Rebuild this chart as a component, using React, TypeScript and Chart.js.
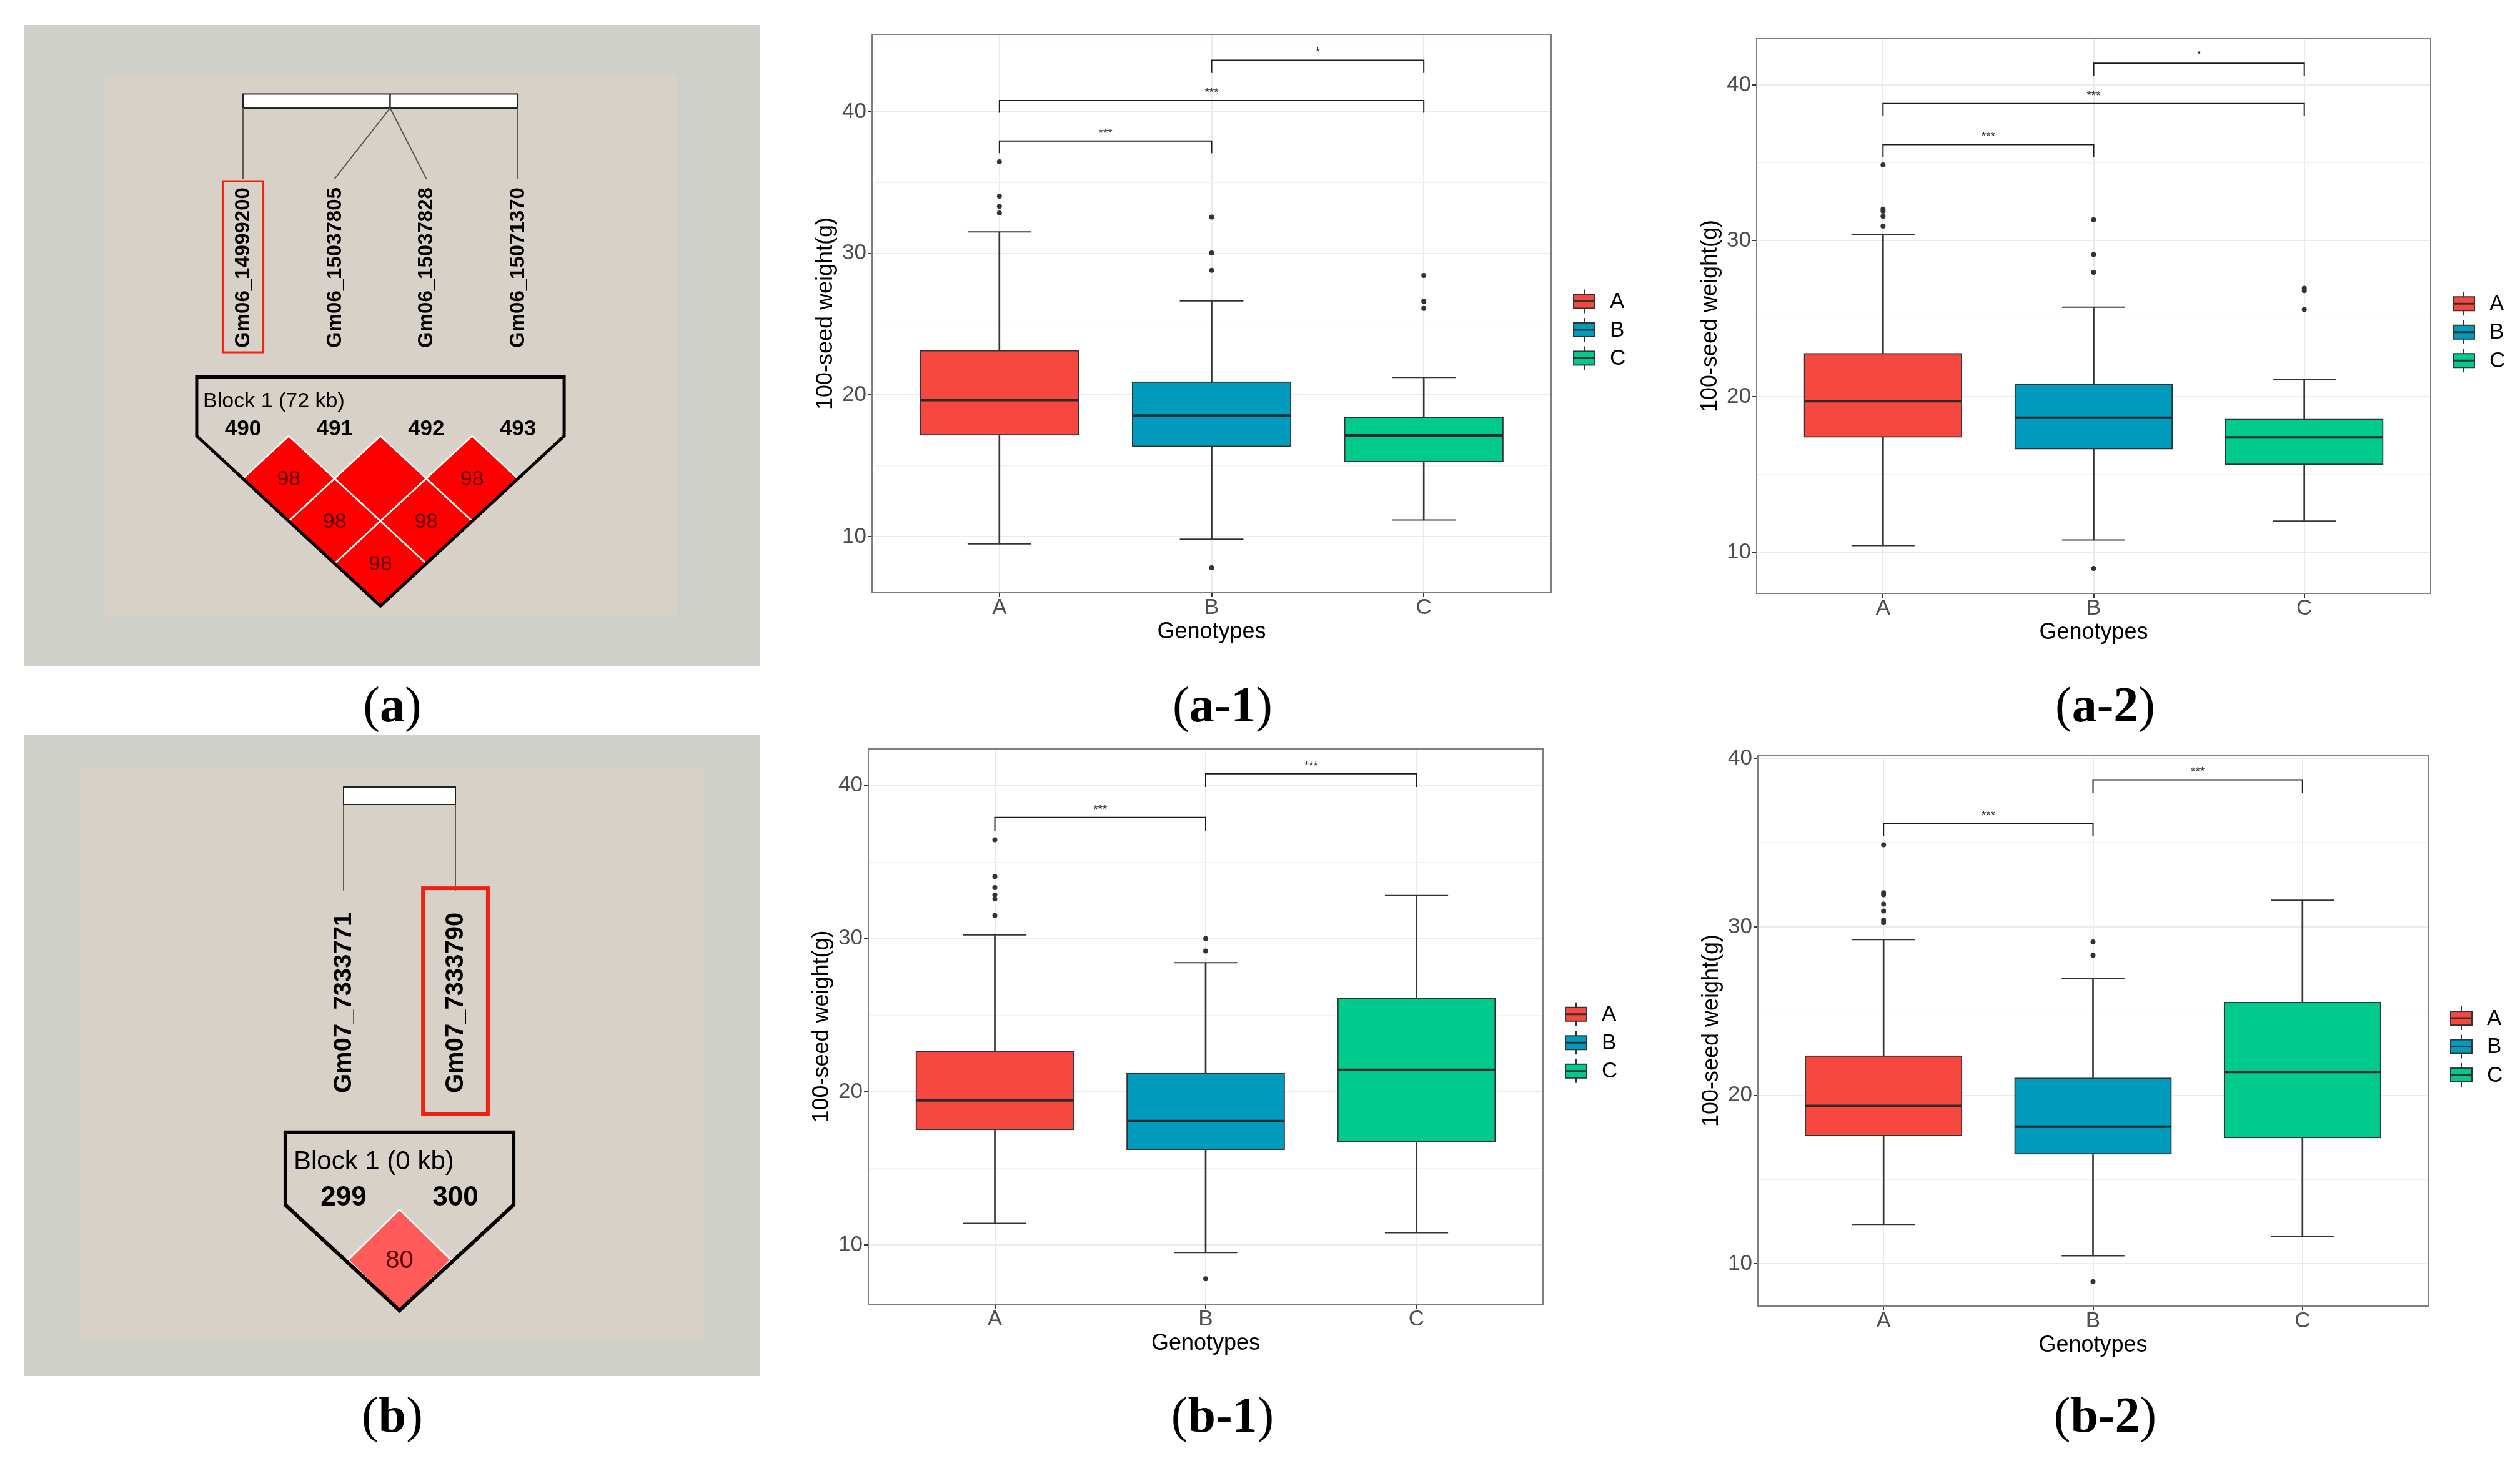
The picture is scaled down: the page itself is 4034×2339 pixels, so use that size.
import React, { useEffect, useRef } from 'react';
import { Chart, registerables } from 'chart.js';

Chart.register(...registerables);
const SANS = "'Liberation Sans', Arial, Helvetica, sans-serif";
Chart.defaults.font.family = SANS;

// ================= Box-plot data =================
const genotypes = ['A', 'B', 'C'];
const genotypeColors = ['#F64740', '#009BBD', '#00CB8D'];
const yMajorTicks = [10, 20, 30, 40];
const yMinorTicks = [15, 25, 35, 45];
const xAxisTitle = 'Genotypes';
const yAxisTitle = '100-seed weight(g)';

// (a-1)
const a1Low = [9.48, 9.81, 11.17];
const a1Q1 = [17.15, 16.35, 15.26];
const a1Median = [19.64, 18.55, 17.15];
const a1Q3 = [23.16, 20.94, 18.41];
const a1High = [31.52, 26.64, 21.24];
const a1Outliers = [[36.47, 34.04, 33.33, 32.85], [32.57, 30.03, 28.81, 7.79], [28.44, 26.61, 26.11]];
const a1SigPairs = [[0, 1], [0, 2], [1, 2]];
const a1SigTop = [37.94, 40.79, 43.64];
const a1SigTip = [37.08, 39.93, 42.75];
const a1SigLabel = ['***', '***', '*'];
const a1YRange = [6.03, 45.47];

// (a-2)
const a2Low = [10.45, 10.81, 12.02];
const a2Q1 = [17.39, 16.63, 15.64];
const a2Median = [19.71, 18.65, 17.39];
const a2Q3 = [22.78, 20.83, 18.57];
const a2High = [30.41, 25.74, 21.1];
const a2Outliers = [[34.87, 32.03, 31.9, 31.57, 30.94], [31.35, 29.12, 27.97, 8.98], [26.95, 26.8, 25.59]];
const a2SigPairs = [[0, 1], [0, 2], [1, 2]];
const a2SigTop = [36.17, 38.8, 41.39];
const a2SigTip = [35.39, 38.0, 40.6];
const a2SigLabel = ['***', '***', '*'];
const a2YRange = [7.38, 42.96];

// (b-1)
const b1Low = [11.41, 9.51, 10.8];
const b1Q1 = [17.51, 16.22, 16.72];
const b1Median = [19.44, 18.09, 21.44];
const b1Q3 = [22.66, 21.22, 26.1];
const b1High = [30.25, 28.43, 32.82];
const b1Outliers = [[36.46, 34.06, 33.34, 32.86, 32.59, 31.51], [30.0, 29.2, 7.79], []];
const b1SigPairs = [[0, 1], [1, 2]];
const b1SigTop = [37.91, 40.77];
const b1SigTip = [37.02, 39.9];
const b1SigLabel = ['***', '***'];
const b1YRange = [6.13, 42.39];

// (b-2)
const b2Low = [12.34, 10.47, 11.62];
const b2Q1 = [17.59, 16.5, 17.47];
const b2Median = [19.37, 18.14, 21.38];
const b2Q3 = [22.35, 21.04, 25.53];
const b2High = [29.24, 26.92, 31.58];
const b2Outliers = [[34.87, 32.02, 31.9, 31.35, 30.94, 30.4, 30.25], [29.1, 28.32, 8.94], []];
const b2SigPairs = [[0, 1], [1, 2]];
const b2SigTop = [36.15, 38.73];
const b2SigTip = [35.4, 37.96];
const b2SigLabel = ['***', '***'];
const b2YRange = [7.49, 40.19];

// ================= LD block data =================
const ldANames = ['Gm06_14999200', 'Gm06_15037805', 'Gm06_15037828', 'Gm06_15071370'];
const ldAPositions = [14999200, 15037805, 15037828, 15071370];
const ldAIds = ['490', '491', '492', '493'];
const ldACellFrom = [0, 1, 2, 0, 1, 0];
const ldACellTo = [1, 2, 3, 2, 3, 3];
const ldACellValue = [98, 100, 98, 98, 98, 98];
const ldAHighlight = 0;
const ldABlockLabel = 'Block 1 (72 kb)';

const ldBNames = ['Gm07_7333771', 'Gm07_7333790'];
const ldBPositions = [7333771, 7333790];
const ldBIds = ['299', '300'];
const ldBCellFrom = [0];
const ldBCellTo = [1];
const ldBCellValue = [80];
const ldBHighlight = 1;
const ldBBlockLabel = 'Block 1 (0 kb)';

const captionTexts = ['a', 'a-1', 'a-2', 'b', 'b-1', 'b-2'];

// ================= layout =================
const X_RANGE = [-0.6, 2.6];
const BOX_WIDTH = 0.75;
const CAP_WIDTH = 0.3;
const X_AXIS_H = 110;
const Y_AXIS_W = 146;
const TICK_FONT = 35;

const boxPlots = [
  { key: 'a1', canvas: { left: 1250, top: 0, w: 1450, h: 1100 }, panel: { l: 1396, r: 2483, t: 55, b: 949 },
    low: a1Low, q1: a1Q1, median: a1Median, q3: a1Q3, high: a1High, outliers: a1Outliers,
    sigPairs: a1SigPairs, sigTop: a1SigTop, sigTip: a1SigTip, sigLabel: a1SigLabel, yRange: a1YRange },
  { key: 'a2', canvas: { left: 2650, top: 0, w: 1384, h: 1100 }, panel: { l: 2812, r: 3891, t: 62, b: 950 },
    low: a2Low, q1: a2Q1, median: a2Median, q3: a2Q3, high: a2High, outliers: a2Outliers,
    sigPairs: a2SigPairs, sigTop: a2SigTop, sigTip: a2SigTip, sigLabel: a2SigLabel, yRange: a2YRange },
  { key: 'b1', canvas: { left: 1250, top: 1150, w: 1450, h: 1100 }, panel: { l: 1390, r: 2470, t: 1199, b: 2088 },
    low: b1Low, q1: b1Q1, median: b1Median, q3: b1Q3, high: b1High, outliers: b1Outliers,
    sigPairs: b1SigPairs, sigTop: b1SigTop, sigTip: b1SigTip, sigLabel: b1SigLabel, yRange: b1YRange },
  { key: 'b2', canvas: { left: 2650, top: 1150, w: 1384, h: 1100 }, panel: { l: 2814, r: 3887, t: 1209, b: 2091 },
    low: b2Low, q1: b2Q1, median: b2Median, q3: b2Q3, high: b2High, outliers: b2Outliers,
    sigPairs: b2SigPairs, sigTop: b2SigTop, sigTip: b2SigTip, sigLabel: b2SigLabel, yRange: b2YRange },
];

const ldPanels = [
  { key: 'ldA', canvas: { left: 39, top: 40, w: 1177, h: 1026 }, inner: { x: 128, y: 79, w: 919, h: 868 },
    markerX0: 389, spacing: 146.67, d0: 698, vUnit: 136, cellHalf: 0.5, sidePad: 0.005, topD: -0.695,
    names: ldANames, positions: ldAPositions, ids: ldAIds, cellFrom: ldACellFrom, cellTo: ldACellTo,
    cellValue: ldACellValue, highlight: ldAHighlight, blockLabel: ldABlockLabel,
    barTop: -4.026, barBottom: -3.86, lineEnd: -3.029, labelBottom: -1.037, labelFont: 33,
    hlHalf: 0.222, hlTop: -3.0, hlBottom: -0.985, hlWidth: 3,
    blockX: -0.436, blockD: -0.41, blockFont: 34, idD: -0.081, idFont: 35, valueFont: 34, outlineW: 5 },
  { key: 'ldB', canvas: { left: 39, top: 1177, w: 1177, h: 1026 }, inner: { x: 87, y: 51, w: 1000, h: 918 },
    markerX0: 550, spacing: 179, d0: 1929, vUnit: 176, cellHalf: 0.46, sidePad: 0.02, topD: -0.661,
    names: ldBNames, positions: ldBPositions, ids: ldBIds, cellFrom: ldBCellFrom, cellTo: ldBCellTo,
    cellValue: ldBCellValue, highlight: ldBHighlight, blockLabel: ldBBlockLabel,
    barTop: -3.801, barBottom: -3.642, lineEnd: -2.86, labelBottom: -1.017, labelFont: 40,
    hlHalf: 0.29, hlTop: -2.88, hlBottom: -0.824, hlWidth: 6,
    blockX: -0.447, blockD: -0.387, blockFont: 42, idD: -0.063, idFont: 44, valueFont: 40, outlineW: 6 },
];

const captionPos = [
  { x: 628, y: 1128 }, { x: 1957, y: 1128 }, { x: 3370, y: 1128 },
  { x: 628, y: 2265 }, { x: 1957, y: 2265 }, { x: 3370, y: 2265 },
];

// ================= Box plot component =================
function BoxPlot({ cfg }: { cfg: any }) {
  const ref = useRef<HTMLCanvasElement>(null);
  useEffect(() => {
    const c = cfg.canvas, p = cfg.panel;
    const pl = p.l - c.left, pr = p.r - c.left, pt = p.t - c.top, pb = p.b - c.top;
    const unitPx = (pr - pl) / (X_RANGE[1] - X_RANGE[0]);
    const idx = genotypes.map((_, i) => i);
    const [yMin, yMax] = cfg.yRange;
    const allTicks = [...yMajorTicks, ...yMinorTicks].filter(v => v >= yMin && v <= yMax).sort((a, b) => a - b);
    const isMajor = (ctx: any) => ctx.tick && yMajorTicks.includes(ctx.tick.value);

    const datasets: any[] = [
      { type: 'bar', label: 'whiskers', data: idx.map(i => ({ x: i, y: [cfg.low[i], cfg.high[i]] })),
        backgroundColor: '#333333', barThickness: 2, grouped: false, order: 6 },
      { type: 'scatter', label: 'caps', data: idx.flatMap(i => [{ x: i, y: cfg.low[i] }, { x: i, y: cfg.high[i] }]),
        pointStyle: 'line', pointRadius: (CAP_WIDTH / 2) * unitPx, pointBorderWidth: 2,
        pointBorderColor: '#333333', pointBackgroundColor: '#333333', order: 5 },
      { type: 'bar', label: 'boxes', data: idx.map(i => ({ x: i, y: [cfg.q1[i], cfg.q3[i]] })),
        backgroundColor: genotypeColors, borderColor: '#333333', borderWidth: 2, borderSkipped: false,
        barThickness: BOX_WIDTH * unitPx, grouped: false, order: 4 },
      { type: 'scatter', label: 'medians', data: idx.map(i => ({ x: i, y: cfg.median[i] })),
        pointStyle: 'line', pointRadius: (BOX_WIDTH / 2) * unitPx - 1, pointBorderWidth: 4,
        pointBorderColor: '#2b2b2b', pointBackgroundColor: '#2b2b2b', order: 3 },
      { type: 'scatter', label: 'outliers', data: idx.flatMap(i => cfg.outliers[i].map((v: number) => ({ x: i, y: v }))),
        pointRadius: 4, pointBackgroundColor: '#333333', pointBorderWidth: 0, order: 2 },
      ...cfg.sigPairs.map((pair: number[], k: number) => ({
        type: 'scatter', label: 'sig' + k,
        data: [{ x: pair[0], y: cfg.sigTip[k] }, { x: pair[0], y: cfg.sigTop[k] },
               { x: pair[1], y: cfg.sigTop[k] }, { x: pair[1], y: cfg.sigTip[k] }],
        showLine: true, borderColor: '#1a1a1a', borderWidth: 2, pointRadius: 0, fill: false, order: 1,
      })),
    ];

    const extras = {
      id: 'boxExtras',
      afterDatasetsDraw(chart: any) {
        const ctx = chart.ctx;
        const xs = chart.scales.x, ys = chart.scales.y;
        ctx.save();
        ctx.fillStyle = '#333333';
        ctx.font = `19px ${SANS}`;
        ctx.textAlign = 'center';
        ctx.textBaseline = 'alphabetic';
        cfg.sigPairs.forEach((pair: number[], k: number) => {
          const x = (xs.getPixelForValue(pair[0]) + xs.getPixelForValue(pair[1])) / 2;
          ctx.fillText(cfg.sigLabel[k], x, ys.getPixelForValue(cfg.sigTop[k]) - 7);
        });
        ctx.restore();
      },
      afterDraw(chart: any) {
        const ctx = chart.ctx;
        const a = chart.chartArea;
        ctx.save();
        ctx.strokeStyle = '#7f7f7f';
        ctx.lineWidth = 2;
        ctx.strokeRect(a.left, a.top, a.right - a.left, a.bottom - a.top);
        // legend (ggplot boxplot keys)
        const keyLeft = a.right + 36;
        const midY = a.top + 0.529 * (a.bottom - a.top);
        genotypes.forEach((g, k) => {
          const cy = midY + (k - 1) * 45.5;
          ctx.strokeStyle = '#333333';
          ctx.lineWidth = 2;
          ctx.beginPath();
          ctx.moveTo(keyLeft + 17, cy - 19);
          ctx.lineTo(keyLeft + 17, cy + 19);
          ctx.stroke();
          ctx.fillStyle = genotypeColors[k];
          ctx.fillRect(keyLeft, cy - 11, 34, 22);
          ctx.strokeRect(keyLeft, cy - 11, 34, 22);
          ctx.lineWidth = 3;
          ctx.beginPath();
          ctx.moveTo(keyLeft, cy);
          ctx.lineTo(keyLeft + 34, cy);
          ctx.stroke();
          ctx.fillStyle = '#000000';
          ctx.font = `${TICK_FONT}px ${SANS}`;
          ctx.textAlign = 'left';
          ctx.textBaseline = 'middle';
          ctx.fillText(g, keyLeft + 58, cy + 1);
        });
        ctx.restore();
      },
    };

    const chart = new Chart(ref.current as HTMLCanvasElement, {
      type: 'bar',
      data: { datasets },
      options: {
        animation: false,
        responsive: false,
        devicePixelRatio: 1,
        layout: { autoPadding: false, padding: { left: pl - Y_AXIS_W, right: c.w - pr, top: pt, bottom: c.h - pb - X_AXIS_H } },
        plugins: { legend: { display: false }, tooltip: { enabled: false } },
        scales: {
          x: {
            type: 'linear', min: X_RANGE[0], max: X_RANGE[1], offset: false,
            afterBuildTicks: (s: any) => { s.ticks = idx.map(i => ({ value: i })); },
            afterFit: (s: any) => { s.height = X_AXIS_H; },
            grid: { color: '#EBEBEB', lineWidth: 2, offset: false, tickColor: '#333333', tickLength: 7, drawTicks: true },
            border: { display: false },
            ticks: { callback: (v: any) => genotypes[v] ?? '', font: { size: TICK_FONT, lineHeight: 1 }, color: '#4D4D4D',
              padding: 0, maxRotation: 0, autoSkip: false },
            title: { display: true, text: xAxisTitle, font: { size: 36 }, color: '#000000',
              padding: { top: 0, bottom: X_AXIS_H - 63 - 21.6 } },
          },
          y: {
            type: 'linear', min: yMin, max: yMax,
            afterBuildTicks: (s: any) => { s.ticks = allTicks.map(v => ({ value: v })); },
            afterFit: (s: any) => { s.width = Y_AXIS_W; },
            grid: {
              color: (ctx: any) => (isMajor(ctx) ? '#EBEBEB' : '#F2F2F2'),
              lineWidth: (ctx: any) => (isMajor(ctx) ? 2 : 1.2),
              tickColor: (ctx: any) => (isMajor(ctx) ? '#333333' : 'rgba(0,0,0,0)'),
              tickLength: 7,
            },
            border: { display: false },
            ticks: { callback: (v: any) => (yMajorTicks.includes(v) ? String(v) : ''), font: { size: TICK_FONT },
              color: '#4D4D4D', padding: 2, autoSkip: false },
            title: { display: true, text: yAxisTitle, font: { size: 36 }, color: '#000000',
              padding: { top: 72 - 21.6, bottom: 0 } },
          },
        },
      } as any,
      plugins: [extras],
    });
    return () => chart.destroy();
  }, [cfg]);
  const c = cfg.canvas;
  return (
    <div style={{ position: 'absolute', left: c.left, top: c.top, width: c.w, height: c.h }}>
      <canvas ref={ref} width={c.w} height={c.h} style={{ display: 'block', width: c.w, height: c.h }} />
    </div>
  );
}

// ================= LD block component =================
function LDPanel({ cfg }: { cfg: any }) {
  const ref = useRef<HTMLCanvasElement>(null);
  useEffect(() => {
    const c = cfg.canvas;
    const n = cfg.names.length;
    const u = cfg.spacing, v = cfg.vUnit;
    const x0 = cfg.markerX0 - c.left;
    const y0 = cfg.d0 - c.top;
    const xMin = -x0 / u, xMax = (c.w - x0) / u;
    const yMin = -y0 / v, yMax = (c.h - y0) / v;
    const h = cfg.cellHalf;

    const cellColor = (val: number) => (val >= 95 ? '#FF0000' : '#FF5B5B');
    const cellDatasets = cfg.cellFrom.map((fi: number, k: number) => {
      const ti = cfg.cellTo[k];
      const cx = (fi + ti) / 2, cy = (ti - fi) * 0.5;
      return {
        type: 'scatter', label: 'cell' + k,
        data: [{ x: cx, y: cy - h }, { x: cx + h, y: cy }, { x: cx, y: cy + h }, { x: cx - h, y: cy }, { x: cx, y: cy - h }],
        showLine: true, fill: 'shape', backgroundColor: cellColor(cfg.cellValue[k]), borderColor: '#FFFFFF',
        borderWidth: 2.5, pointRadius: 0, order: 2,
      };
    });
    const L = -0.5 - cfg.sidePad, R = n - 0.5 + cfg.sidePad, T = cfg.topD, apex = (n - 1) / 2 + h;
    const outline = {
      type: 'scatter', label: 'block',
      data: [{ x: L, y: T }, { x: R, y: T }, { x: R, y: 0 }, { x: (n - 1) / 2, y: apex }, { x: L, y: 0 }, { x: L, y: T }, { x: R, y: T }],
      showLine: true, fill: false, borderColor: '#000000', borderWidth: cfg.outlineW, pointRadius: 0,
      borderJoinStyle: 'miter', order: 1,
    };

    const extras = {
      id: 'ldExtras',
      beforeDraw(chart: any) {
        const ctx = chart.ctx;
        ctx.save();
        ctx.fillStyle = '#D0D0CB';
        ctx.fillRect(0, 0, chart.width, chart.height);
        ctx.fillStyle = '#D8D1C8';
        ctx.fillRect(cfg.inner.x, cfg.inner.y, cfg.inner.w, cfg.inner.h);
        ctx.restore();
      },
      afterDatasetsDraw(chart: any) {
        const ctx = chart.ctx;
        const X = (val: number) => chart.scales.x.getPixelForValue(val);
        const Y = (val: number) => chart.scales.y.getPixelForValue(val);
        const p0 = cfg.positions[0], pN = cfg.positions[n - 1];
        const phys = (pos: number) => ((pos - p0) / (pN - p0)) * (n - 1);
        ctx.save();
        // values in cells
        ctx.font = `${cfg.valueFont}px ${SANS}`;
        ctx.fillStyle = '#5C0000';
        ctx.textAlign = 'center';
        ctx.textBaseline = 'middle';
        cfg.cellFrom.forEach((fi: number, k: number) => {
          const val = cfg.cellValue[k];
          if (val >= 100) return;
          const ti = cfg.cellTo[k];
          ctx.fillText(String(val), X((fi + ti) / 2), Y((ti - fi) * 0.5) + 2);
        });
        // physical map bar
        const bx0 = X(0), bx1 = X(n - 1), by0 = Y(cfg.barTop), by1 = Y(cfg.barBottom);
        ctx.fillStyle = '#FFFFFF';
        ctx.fillRect(bx0, by0, bx1 - bx0, by1 - by0);
        ctx.strokeStyle = '#222222';
        ctx.lineWidth = 2;
        ctx.strokeRect(bx0, by0, bx1 - bx0, by1 - by0);
        cfg.positions.slice(1, n - 1).forEach((pos: number) => {
          ctx.beginPath();
          ctx.moveTo(X(phys(pos)), by0);
          ctx.lineTo(X(phys(pos)), by1);
          ctx.stroke();
        });
        // connectors
        ctx.strokeStyle = '#5A5A5A';
        ctx.lineWidth = 2;
        cfg.positions.forEach((pos: number, i: number) => {
          ctx.beginPath();
          ctx.moveTo(X(phys(pos)), by1);
          ctx.lineTo(X(i), Y(cfg.lineEnd));
          ctx.stroke();
        });
        // marker labels
        ctx.fillStyle = '#000000';
        ctx.font = `bold ${cfg.labelFont}px ${SANS}`;
        ctx.textAlign = 'left';
        ctx.textBaseline = 'middle';
        cfg.names.forEach((name: string, i: number) => {
          ctx.save();
          ctx.translate(X(i) + 1, Y(cfg.labelBottom));
          ctx.rotate(-Math.PI / 2);
          ctx.fillText(name, 0, 0);
          ctx.restore();
        });
        // highlight box
        ctx.strokeStyle = '#EE2211';
        ctx.lineWidth = cfg.hlWidth;
        const hx0 = X(cfg.highlight - cfg.hlHalf), hx1 = X(cfg.highlight + cfg.hlHalf);
        ctx.strokeRect(hx0, Y(cfg.hlTop), hx1 - hx0, Y(cfg.hlBottom) - Y(cfg.hlTop));
        // block title
        ctx.fillStyle = '#000000';
        ctx.font = `${cfg.blockFont}px ${SANS}`;
        ctx.textAlign = 'left';
        ctx.fillText(cfg.blockLabel, X(cfg.blockX), Y(cfg.blockD));
        // marker ids
        ctx.font = `bold ${cfg.idFont}px ${SANS}`;
        ctx.textAlign = 'center';
        cfg.ids.forEach((id: string, i: number) => ctx.fillText(id, X(i), Y(cfg.idD)));
        ctx.restore();
      },
    };

    const chart = new Chart(ref.current as HTMLCanvasElement, {
      type: 'scatter',
      data: { datasets: [outline, ...cellDatasets] as any },
      options: {
        animation: false,
        responsive: false,
        devicePixelRatio: 1,
        layout: { autoPadding: false, padding: 0 },
        plugins: { legend: { display: false }, tooltip: { enabled: false } },
        scales: {
          x: { type: 'linear', display: false, min: xMin, max: xMax },
          y: { type: 'linear', display: false, min: yMin, max: yMax, reverse: true },
        },
      } as any,
      plugins: [extras],
    });
    return () => chart.destroy();
  }, [cfg]);
  const c = cfg.canvas;
  return (
    <div style={{ position: 'absolute', left: c.left, top: c.top, width: c.w, height: c.h }}>
      <canvas ref={ref} width={c.w} height={c.h} style={{ display: 'block', width: c.w, height: c.h }} />
    </div>
  );
}

function Caption({ text, x, y }: { text: string; x: number; y: number }) {
  return (
    <div style={{ position: 'absolute', left: x, top: y, transform: 'translate(-50%, -50%)',
      fontFamily: "'Liberation Serif', 'Times New Roman', serif", fontSize: 80, lineHeight: 1,
      whiteSpace: 'nowrap', color: '#000' }}>
      (<b>{text}</b>)
    </div>
  );
}

export default function App() {
  return (
    <div style={{ position: 'absolute', left: 0, top: 0, width: 4034, height: 2339, background: '#FFFFFF', overflow: 'hidden' }}>
      {ldPanels.map(cfg => <LDPanel key={cfg.key} cfg={cfg} />)}
      {boxPlots.map(cfg => <BoxPlot key={cfg.key} cfg={cfg} />)}
      {captionTexts.map((t, i) => <Caption key={t} text={t} x={captionPos[i].x} y={captionPos[i].y} />)}
    </div>
  );
}
